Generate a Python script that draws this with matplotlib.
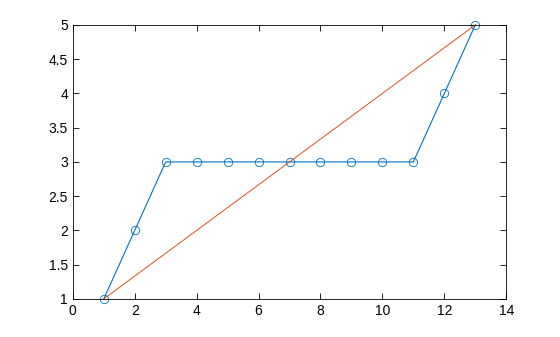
import matplotlib
matplotlib.use('Agg')
import matplotlib.pyplot as plt

matplotlib.rc('font', family='Liberation Sans', size=10)

x = [1, 2, 3, 4, 5, 6, 7, 8, 9, 10, 11, 12, 13]
y_blue = [1, 2, 3, 3, 3, 3, 3, 3, 3, 3, 3, 4, 5]
x_line = [1, 13]
y_line = [1, 5]

fig = plt.figure(figsize=(5.6, 3.37), dpi=100)
ax = fig.add_axes([0.13, 0.113, 0.774, 0.813])

ax.plot(x, y_blue, color='#0072BD', linewidth=0.8, marker='o', markersize=6,
        markerfacecolor='none', markeredgewidth=0.6, clip_on=False)
ax.plot(x_line, y_line, color='#D95319', linewidth=0.7, clip_on=False)

ax.set_xlim(0, 14)
ax.set_ylim(1, 5)
ax.set_xticks(range(0, 15, 2))
ax.set_yticks([1, 1.5, 2, 2.5, 3, 3.5, 4, 4.5, 5])
ax.set_yticklabels(['1', '1.5', '2', '2.5', '3', '3.5', '4', '4.5', '5'])
ax.tick_params(direction='in', top=True, right=True, length=4, width=0.6, labelsize=10)
for s in ax.spines.values():
    s.set_linewidth(0.6)

fig.savefig('out.png', dpi=100)
